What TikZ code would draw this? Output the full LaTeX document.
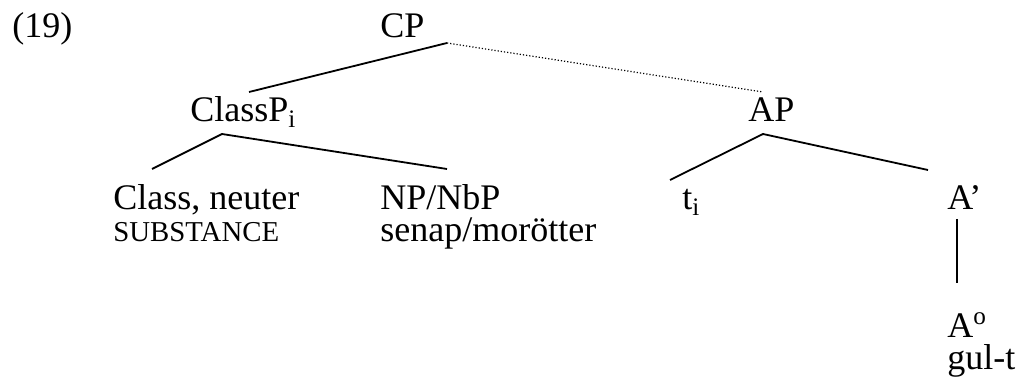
\documentclass[tikz,border=0pt]{standalone}
\usepackage{fontspec}
\setmainfont{Liberation Serif}
\usetikzlibrary{positioning}

\begin{document}
\begin{tikzpicture}[x=0.5pt, y=-0.5pt, font=\fontsize{18}{22}\selectfont,
  lbl/.style={anchor=base west, inner sep=0pt},
  edge/.style={line width=0.9pt},
  dots/.style={line width=0.6pt, dash pattern=on 0.6pt off 1pt}]

\useasboundingbox (0,0) rectangle (1021,389);

\node[lbl] (ex) at (12,38) {(19)};
\node[lbl] (CP) at (380,38) {CP};

\node[lbl] (ClassP) at (190,122) {ClassP\textsubscript{i}};
\node[lbl] (AP) at (748,122) {AP};

\node[lbl] (Class) at (113,210) {Class, neuter};
\node[below=16pt of Class.base west, anchor=base west, inner sep=0pt, font=\fontsize{14.4}{17}\selectfont] (sub) {SUBSTANCE};
\node[lbl] (NP) at (380,210) {NP/NbP};
\node[below=16pt of NP.base west, anchor=base west, inner sep=0pt] (senap) {senap/morötter};
\node[lbl] (t) at (682,210) {t\textsubscript{i}};
\node[lbl] (Abar) at (947,210) {A’};

\node[lbl] (A0) at (947,337) {A\textsuperscript{o}};
\node[below=16pt of A0.base west, anchor=base west, inner sep=0pt] (gul) {gul-t};

\draw[edge] ([shift={(67,5)}] CP.base west) -- ([shift={(59,-30)}] ClassP.base west);
\draw[dots] ([shift={(67,5)}] CP.base west) -- ([shift={(15,-30)}] AP.base west);

\draw[edge] ([shift={(39,-41)}] Class.base west) -- ([shift={(32,12)}] ClassP.base west) -- ([shift={(67,-41)}] NP.base west);
\draw[edge] ([shift={(-12,-30)}] t.base west) -- ([shift={(15,12)}] AP.base west) -- ([shift={(-19,-40)}] Abar.base west);

\draw[edge] ([shift={(10,9)}] Abar.base west) -- ([shift={(10,-54)}] A0.base west);

\end{tikzpicture}
\end{document}
